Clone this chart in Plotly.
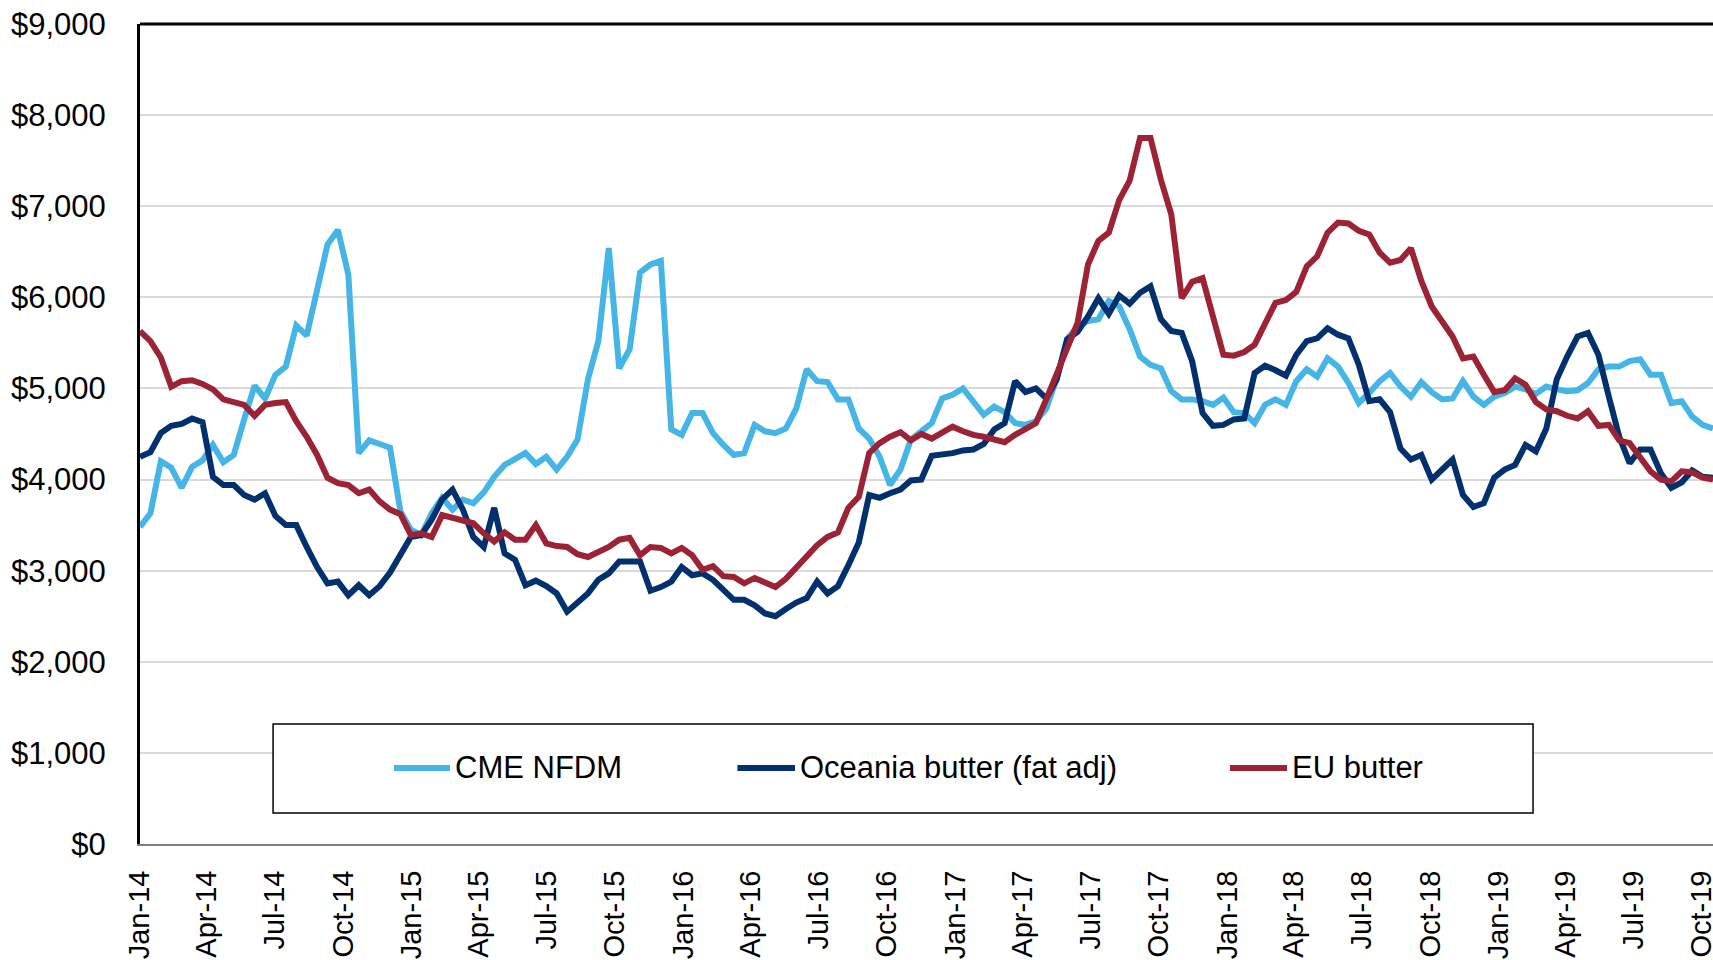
import pandas as pd
import plotly.graph_objects as go

# Biweekly observations starting Jan-2014
dates = pd.date_range("2014-01-01", periods=152, freq="14D")

cme_nfdm = [
    3480, 3630, 4200, 4130, 3910, 4140, 4210, 4380, 4190, 4270,
    4660, 5030, 4890, 5150, 5240, 5690, 5580, 6050, 6580, 6740,
    6250, 4290, 4430, 4390, 4350, 3650, 3450, 3390, 3630, 3800,
    3670, 3780, 3740, 3860, 4030, 4160, 4230, 4290, 4170, 4250,
    4110, 4250, 4440, 5100, 5520, 6540, 5220, 5430, 6270, 6360,
    6400, 4550, 4490, 4730, 4730, 4510, 4380, 4270, 4290, 4600,
    4530, 4510, 4560, 4780, 5210, 5080, 5070, 4880, 4880, 4560,
    4450, 4250, 3940, 4110, 4440, 4530, 4620, 4890, 4930, 5000,
    4860, 4710, 4800, 4740, 4620, 4600, 4640, 4780, 5110, 5540,
    5680, 5740, 5760, 5960, 5900, 5650, 5350, 5260, 5220, 4970,
    4880, 4880, 4860, 4820, 4900, 4740, 4730, 4620, 4820, 4880,
    4820, 5080, 5210, 5130, 5330, 5240, 5060, 4840, 4950, 5080,
    5170, 5020, 4910, 5070, 4960, 4880, 4890, 5080, 4910, 4820,
    4910, 4950, 5020, 4990, 4940, 5020, 4990, 4970, 4980, 5060,
    5210, 5240, 5240, 5300, 5320, 5150, 5150, 4840, 4860, 4690,
    4600, 4560,
]

oceania_butter = [
    4250, 4300, 4510, 4590, 4610, 4670, 4630, 4030, 3940, 3940,
    3830, 3780, 3850, 3600, 3500, 3500, 3260, 3040, 2860, 2880,
    2730, 2840, 2730, 2830, 2980, 3190, 3370, 3390, 3560, 3780,
    3890, 3670, 3370, 3260, 3690, 3190, 3120, 2840, 2890, 2830,
    2750, 2550, 2660, 2750, 2900, 2970, 3100, 3100, 3100, 2780,
    2820, 2880, 3040, 2950, 2970, 2900, 2790, 2680, 2680, 2620,
    2530, 2500, 2580, 2650, 2700, 2880, 2750, 2830, 3060, 3310,
    3830, 3800, 3850, 3890, 3990, 4000, 4260, 4270, 4290, 4320,
    4330, 4390, 4550, 4620, 5080, 4960, 5000, 4890, 5100, 5540,
    5620, 5790, 5990, 5820, 6020, 5930, 6050, 6120, 5760, 5630,
    5610, 5300, 4730, 4590, 4600, 4660, 4670, 5170, 5250, 5200,
    5140, 5370, 5520, 5550, 5660, 5590, 5550, 5260, 4860, 4880,
    4740, 4340, 4220, 4270, 4000, 4110, 4220, 3830, 3700, 3740,
    4020, 4110, 4160, 4380, 4310, 4560, 5100, 5350, 5570, 5610,
    5370, 4910, 4470, 4180, 4330, 4330, 4070, 3910, 3970, 4100,
    4030, 4020,
]

eu_butter = [
    5630, 5520, 5340, 5020, 5080, 5090, 5050, 4990, 4880, 4850,
    4820, 4700, 4820, 4840, 4850, 4640, 4470, 4270, 4020, 3960,
    3940, 3850, 3890, 3760, 3670, 3620, 3390, 3410, 3370, 3610,
    3580, 3540, 3520, 3410, 3320, 3420, 3340, 3340, 3500, 3300,
    3270, 3260, 3180, 3150, 3200, 3260, 3340, 3360, 3170, 3260,
    3250, 3190, 3250, 3170, 3010, 3050, 2940, 2930, 2860, 2920,
    2870, 2820, 2910, 3040, 3150, 3280, 3370, 3420, 3690, 3810,
    4290, 4400, 4470, 4520, 4430, 4500, 4450, 4520, 4580, 4530,
    4490, 4470, 4440, 4410, 4490, 4550, 4620, 4880, 5170, 5460,
    5720, 6360, 6620, 6710, 7070, 7280, 7750, 7750, 7290, 6910,
    5990, 6170, 6210, 5790, 5370, 5360, 5400, 5480, 5720, 5940,
    5970, 6060, 6340, 6450, 6710, 6820, 6810, 6730, 6690, 6490,
    6380, 6410, 6540, 6180, 5900, 5720, 5570, 5330, 5350, 5150,
    4960, 4980, 5110, 5040, 4850, 4770, 4750, 4700, 4670, 4750,
    4590, 4600, 4430, 4400, 4250, 4090, 4000, 3980, 4090, 4080,
    4020, 4000,
]

series_names = ["CME NFDM", "Oceania butter (fat adj)", "EU butter"]
series_colors = ["#44B5E6", "#00306E", "#9C2236"]
series_values = [cme_nfdm, oceania_butter, eu_butter]

FONT = "Liberation Sans Narrow, Arial Narrow, Liberation Sans, Arial, sans-serif"

fig = go.Figure()
for name, color, vals in zip(series_names, series_colors, series_values):
    fig.add_trace(go.Scatter(
        x=dates, y=vals, mode="lines", name=name,
        line=dict(color=color, width=6),
        showlegend=False, hoverinfo="skip",
    ))

fig.update_layout(
    width=1713, height=960,
    margin=dict(l=140, r=0, t=24, b=116, autoexpand=False),
    paper_bgcolor="white", plot_bgcolor="white",
    font=dict(family=FONT, size=31, color="black"),
)

fig.update_yaxes(
    range=[0, 9000], dtick=1000, tick0=0,
    tickprefix="$", tickformat=",",
    showgrid=True, gridcolor="#D9D9D9", gridwidth=2,
    zeroline=False,
    showline=True, linecolor="black", linewidth=3,
    ticks="", ticklabelstandoff=25, automargin=False,
    ticklabeloverflow="allow",
    tickfont=dict(family=FONT, size=31, color="black"),
)

fig.update_xaxes(
    type="date",
    range=["2014-01-01", "2019-10-16"],
    tick0="2014-01-01", dtick="M3", tickformat="%b-%y",
    tickangle=-90,
    showgrid=False, zeroline=False,
    showline=True, linecolor="#7F7F7F", linewidth=2,
    ticks="", ticklabelstandoff=13, automargin=False,
    ticklabeloverflow="allow",
    tickfont=dict(family=FONT, size=29, color="black"),
)

# top border of plot area
fig.add_shape(type="line", xref="paper", yref="paper",
              x0=0, x1=1, y0=1, y1=1,
              line=dict(color="black", width=3))

# custom legend box
fig.add_shape(type="rect", xref="paper", yref="paper",
              x0=0.0846, x1=0.8856, y0=0.0378, y1=0.1463,
              fillcolor="white", line=dict(color="black", width=1.5),
              layer="above")

legend_y = 0.0927
legend_items = [
    (0.1615, 0.1971, 0.1990),
    (0.3798, 0.4164, 0.4183),
    (0.6929, 0.7292, 0.7311),
]
for (lx0, lx1, tx), name, color in zip(legend_items, series_names, series_colors):
    fig.add_shape(type="line", xref="paper", yref="paper",
                  x0=lx0, x1=lx1, y0=legend_y, y1=legend_y,
                  line=dict(color=color, width=6), layer="above")
    fig.add_annotation(x=tx, y=legend_y, xref="paper", yref="paper",
                       text=name, showarrow=False,
                       xanchor="left", yanchor="middle",
                       font=dict(family=FONT, size=31, color="black"))

# remove the default 8px page margin so the figure fills the window exactly
fig.write_html(
    "out.html",
    config={"displayModeBar": False, "staticPlot": True},
    post_script="document.body.style.margin='0';document.body.style.overflow='hidden';",
)
